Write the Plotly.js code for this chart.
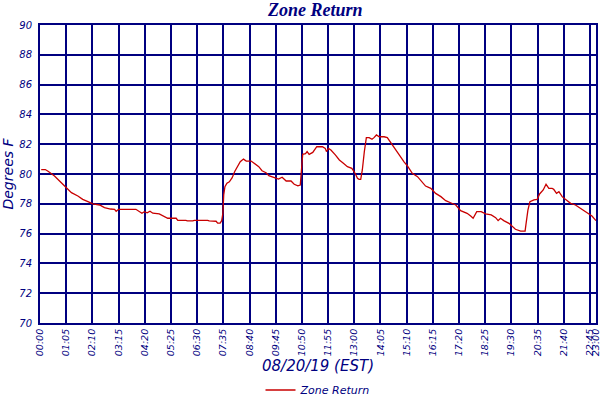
<!DOCTYPE html>
<html>
<head>
<meta charset="utf-8">
<script src="https://cdn.plot.ly/plotly-3.0.1.min.js"></script>
<style>
  html, body { margin: 0; padding: 0; background: #fff; }
  #chart { width: 600px; height: 400px; }
</style>
</head>
<body>
<div id="chart"></div>
<script>
// Zone return temperature for 08/20/19.
// x is minutes after midnight (EST), y is degrees F.
const minutes = [
  3, 13, 20, 28, 36, 46, 57, 69, 78, 94, 106, 119, 131, 148, 160, 175, 185, 189,
  195, 238, 247, 253, 259, 266, 273, 280, 296, 305, 317, 338, 342, 362, 366, 379,
  383, 416, 420, 437, 441, 447, 451, 454, 456, 459, 464, 470, 477, 483, 491, 497,
  505, 512, 524, 535, 543, 551, 561, 568, 578, 586, 592, 601, 611, 623, 631, 640,
  646, 648, 652, 659, 663, 668, 677, 687, 701, 708, 711, 716, 722, 733, 743, 753,
  763, 774, 782, 788, 792, 796, 800, 805, 810, 817, 824, 829, 835, 842, 854, 862,
  873, 883, 891, 904, 912, 924, 937, 949, 957, 970, 982, 995, 1007, 1019, 1032,
  1044, 1060, 1069, 1075, 1084, 1095, 1106, 1120, 1131, 1137, 1143, 1151, 1164,
  1172, 1180, 1193, 1204, 1206, 1211, 1216, 1226, 1234, 1240, 1249, 1256, 1263,
  1271, 1275, 1282, 1288, 1296, 1304, 1317, 1329, 1341, 1354, 1362, 1370, 1380
];
const zoneReturn = [
  80.3, 80.3, 80.18, 80.05, 79.87, 79.6, 79.3, 78.97, 78.75, 78.52, 78.3, 78.14,
  77.99, 77.92, 77.74, 77.65, 77.63, 77.5, 77.63, 77.63, 77.5, 77.37, 77.47, 77.4,
  77.5, 77.37, 77.32, 77.18, 77.03, 77.03, 76.89, 76.89, 76.85, 76.85, 76.89,
  76.89, 76.85, 76.83, 76.7, 76.7, 76.87, 77.37, 78.6, 79.15, 79.38, 79.48, 79.75,
  80.15, 80.56, 80.83, 81.0, 80.87, 80.87, 80.65, 80.49, 80.22, 80.09, 79.89,
  79.78, 79.71, 79.66, 79.78, 79.53, 79.53, 79.31, 79.2, 79.26, 79.93, 81.32,
  81.36, 81.5, 81.32, 81.45, 81.83, 81.83, 81.72, 81.5, 81.72, 81.61, 81.28, 80.94,
  80.72, 80.49, 80.38, 80.05, 79.71, 79.64, 79.64, 80.27, 81.5, 82.44, 82.44,
  82.33, 82.44, 82.62, 82.5, 82.5, 82.44, 82.0, 81.6, 81.28, 80.8, 80.54, 80.05,
  79.82, 79.42, 79.19, 79.04, 78.7, 78.48, 78.21, 78.07, 77.92, 77.54, 77.36,
  77.18, 77.03, 77.47, 77.47, 77.32, 77.25, 77.07, 76.87, 77.03, 76.87, 76.69,
  76.51, 76.29, 76.17, 76.17, 76.58, 77.58, 78.14, 78.26, 78.3, 78.66, 78.93,
  79.31, 79.04, 79.04, 78.97, 78.7, 78.81, 78.48, 78.3, 78.03, 77.92, 77.7, 77.52,
  77.36, 77.18, 76.87
];

const tickMinutes = [0, 65, 130, 195, 260, 325, 390, 455, 520, 585, 650, 715, 780,
  845, 910, 975, 1040, 1105, 1170, 1235, 1300, 1365, 1380];
const tickLabels = ['00:00', '01:05', '02:10', '03:15', '04:20', '05:25', '06:30',
  '07:35', '08:40', '09:45', '10:50', '11:55', '13:00', '14:05', '15:10', '16:15',
  '17:20', '18:25', '19:30', '20:35', '21:40', '22:45', '23:00'];

const NAVY = '#000080';
const labelFont = { family: 'DejaVu Sans, Verdana, sans-serif', color: NAVY, style: 'italic' };

const trace = {
  x: minutes,
  y: zoneReturn,
  type: 'scatter',
  mode: 'lines',
  name: 'Zone Return',
  line: { color: '#c80000', width: 1.3, shape: 'linear' }
};

const layout = {
  width: 600,
  height: 400,
  paper_bgcolor: '#fff',
  plot_bgcolor: '#fff',
  margin: { l: 40, r: 4, t: 25, b: 77, pad: 0, autoexpand: false },
  title: {
    text: 'Zone Return',
    x: 0.495, xref: 'paper',
    y: 0.975, yref: 'container', yanchor: 'middle',
    font: { family: 'Liberation Serif, serif', size: 18, color: NAVY, style: 'italic', weight: 'bold' }
  },
  xaxis: {
    range: [0, 1380],
    automargin: false,
    tickmode: 'array',
    tickvals: tickMinutes,
    ticktext: tickLabels,
    tickangle: -90,
    tickfont: Object.assign({ size: 9.5 }, labelFont),
    ticklabeloverflow: 'allow',
    ticks: '',
    showgrid: true,
    gridcolor: NAVY,
    gridwidth: 2,
    zeroline: false,
    showline: true,
    linecolor: NAVY,
    linewidth: 2,
    mirror: true,
    title: {
      text: '08/20/19 (EST)',
      font: Object.assign({ size: 15 }, labelFont),
      standoff: 10
    }
  },
  yaxis: {
    range: [70, 90],
    automargin: false,
    dtick: 2,
    tick0: 70,
    tickfont: Object.assign({ size: 10 }, labelFont),
    ticks: '',
    ticklabelstandoff: 4,
    showgrid: true,
    gridcolor: NAVY,
    gridwidth: 2,
    zeroline: false,
    showline: true,
    linecolor: NAVY,
    linewidth: 2,
    mirror: true,
    title: {
      text: 'Degrees F',
      font: Object.assign({ size: 14 }, labelFont),
      standoff: 6
    }
  },
  showlegend: true,
  legend: {
    orientation: 'h',
    x: 0.5, xanchor: 'center',
    y: 0.025, yref: 'container', yanchor: 'middle',
    font: Object.assign({ size: 11 }, labelFont),
    itemwidth: 30
  }
};

Plotly.newPlot('chart', [trace], layout, { displayModeBar: false, staticPlot: true });
</script>
</body>
</html>
